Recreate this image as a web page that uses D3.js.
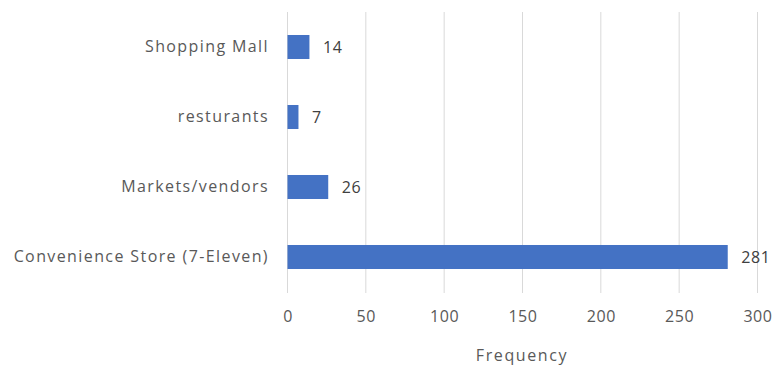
<!DOCTYPE html>
<html>
<head>
<meta charset="utf-8">
<script src="https://cdn.jsdelivr.net/npm/d3@7"></script>
<style>
  html, body { margin: 0; padding: 0; background: #fff; }
  svg { display: block; font-family: "Open Sans", sans-serif; }
</style>
</head>
<body>
<svg id="chart" width="773" height="370"></svg>
<script>
// Where people bought: frequency by outlet type (top to bottom)
const categories = ["Shopping Mall", "resturants", "Markets/vendors", "Convenience Store (7-Eleven)"];
const frequencies = [14, 7, 26, 281];
const xTicks = [0, 50, 100, 150, 200, 250, 300];
const xTitle = "Frequency";

const svg = d3.select("#chart");
const margin = { top: 12, left: 287 };

const textColor = "#595959";
const fontFamily = "'Open Sans', sans-serif";
const fontSize = 16;
const spacing = "1.4px";
const g = svg.append("g").attr("transform", `translate(${margin.left},${margin.top})`);

const x = d3.scaleLinear().domain([0, 300]).range([0, 470]);
const y = d3.scaleBand().domain(categories).range([0, 280])
  .paddingInner(0.657).paddingOuter(0.3285);

// Vertical gridlines
g.append("g").selectAll("line").data(xTicks).join("line")
  .attr("x1", d => x(d) + 0.5).attr("x2", d => x(d) + 0.5)
  .attr("y1", 0).attr("y2", 281)
  .attr("stroke", "#d9d9d9").attr("stroke-width", 1);

// Bars
g.append("g").selectAll("rect").data(categories).join("rect")
  .attr("x", x(0) + 0.5)
  .attr("y", d => y(d))
  .attr("width", (d, i) => x(frequencies[i]))
  .attr("height", y.bandwidth())
  .attr("fill", "#4472C4");

// Value labels
g.append("g").selectAll("text").data(categories).join("text")
  .attr("x", (d, i) => x(frequencies[i]) + 14)
  .attr("y", d => y(d) + y.bandwidth() / 2)
  .attr("dy", "0.35em")
  .attr("font-size", fontSize)
  .attr("letter-spacing", "0.6px")
  .attr("fill", "#404040")
  .text((d, i) => frequencies[i]);

// Category axis labels
const yAxis = d3.axisLeft(y).tickSize(0).tickPadding(18);
const yg = g.append("g").call(yAxis);
yg.select(".domain").remove();
yg.selectAll("text").attr("font-size", fontSize).attr("fill", textColor)
  .attr("letter-spacing", spacing)
  .style("font-family", fontFamily);

// Value axis
const xAxis = d3.axisBottom(x).tickValues(xTicks).tickSize(0).tickPadding(19);
const xg = g.append("g").attr("transform", "translate(0.5,280)").call(xAxis);
xg.select(".domain").remove();
xg.selectAll("text").attr("font-size", fontSize).attr("fill", textColor)
  .attr("letter-spacing", "0.6px")
  .style("font-family", fontFamily);

// Axis title
g.append("text")
  .attr("x", 235).attr("y", 343)
  .attr("dy", "0.35em")
  .attr("text-anchor", "middle")
  .attr("font-size", fontSize)
  .attr("letter-spacing", "1.6px")
  .attr("fill", textColor)
  .text(xTitle);
</script>
</body>
</html>
